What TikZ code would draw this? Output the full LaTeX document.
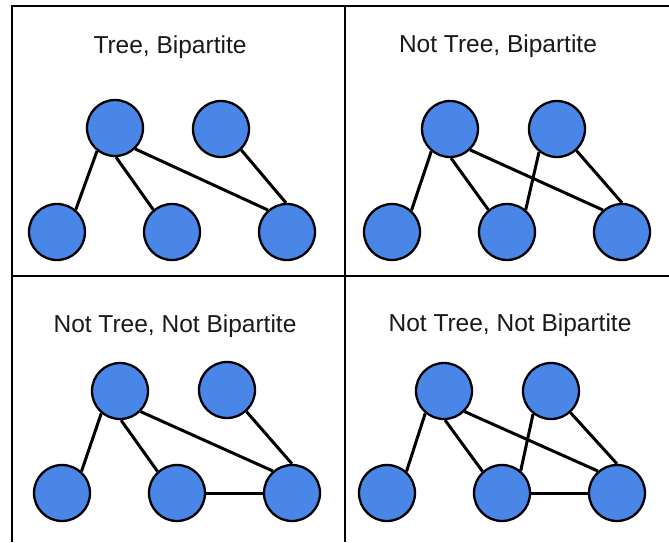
\documentclass[tikz,border=0pt]{standalone}
\usepackage{fontspec}
\setmainfont{Liberation Sans}
\definecolor{nodeblue}{HTML}{4A86E8}
\definecolor{txt}{HTML}{1A1A1A}
\begin{document}
\begin{tikzpicture}[x=1pt,y=-1pt,
  vtx/.style={circle,draw=black,fill=nodeblue,line width=2.3pt,minimum size=56pt,inner sep=0pt},
  edge/.style={draw=black,line width=3pt},
  frame/.style={draw=black,line width=1.8pt},
  title/.style={anchor=base,text=txt,font=\fontsize{24.5}{28}\selectfont,inner sep=0pt}]
\useasboundingbox (0,0) rectangle (669,542);
\fill[white] (0,0) rectangle (669,542);
% frame
\coordinate (tl) at (12,6);
\coordinate (tr) at (669,6);
\coordinate (bl) at (12,542);
\coordinate (mt) at (345,6);
\coordinate (mb) at (345,542);
\coordinate (ml) at (12,276);
\coordinate (mr) at (669,276);
\draw[frame] (bl) -- (tl) -- (tr);
\draw[frame] (mt) -- (mb);
\draw[frame] (ml) -- (mr);
% titles
\node[title] (t1) at (170,53) {Tree, Bipartite};
\node[title] (t2) at (498,52) {Not Tree, Bipartite};
\node[title] (t3) at (175,332) {Not Tree, Not Bipartite};
\node[title] (t4) at (510,331) {Not Tree, Not Bipartite};
% panel 1
\node[vtx] (a1) at (115,128) {};
\node[vtx] (b1) at (221,129) {};
\node[vtx] (l1) at (57,232) {};
\node[vtx] (m1) at (172,232) {};
\node[vtx] (r1) at (287,232) {};
\draw[edge] (a1.232) -- (l1.50);
\draw[edge] (a1.272) -- (m1.130);
\draw[edge] (a1.314) -- (r1.131);
\draw[edge] (b1.314) -- (r1.92);
% panel 2
\node[vtx] (a2) at (450,129) {};
\node[vtx] (b2) at (557,129) {};
\node[vtx] (l2) at (392,232) {};
\node[vtx] (m2) at (507,232) {};
\node[vtx] (r2) at (622,232) {};
\draw[edge] (a2.230) -- (l2.48);
\draw[edge] (a2.272) -- (m2.130);
\draw[edge] (a2.314) -- (r2.131);
\draw[edge] (b2.232) -- (m2.50);
\draw[edge] (b2.312) -- (r2.90);
% panel 3
\node[vtx] (a3) at (120,391) {};
\node[vtx] (b3) at (227,390) {};
\node[vtx] (l3) at (62,493) {};
\node[vtx] (m3) at (177,493) {};
\node[vtx] (r3) at (292,493) {};
\draw[edge] (a3.230) -- (l3.48);
\draw[edge] (a3.272) -- (m3.132);
\draw[edge] (a3.315) -- (r3.131);
\draw[edge] (b3.312) -- (r3.90);
\draw[edge] (m3.0) -- (r3.180);
% panel 4
\node[vtx] (a4) at (444,391) {};
\node[vtx] (b4) at (551,391) {};
\node[vtx] (l4) at (387,493) {};
\node[vtx] (m4) at (502,493) {};
\node[vtx] (r4) at (617,493) {};
\draw[edge] (a4.230) -- (l4.48);
\draw[edge] (a4.272) -- (m4.132);
\draw[edge] (a4.315) -- (r4.131);
\draw[edge] (b4.232) -- (m4.50);
\draw[edge] (b4.312) -- (r4.90);
\draw[edge] (m4.0) -- (r4.180);
\end{tikzpicture}
\end{document}
